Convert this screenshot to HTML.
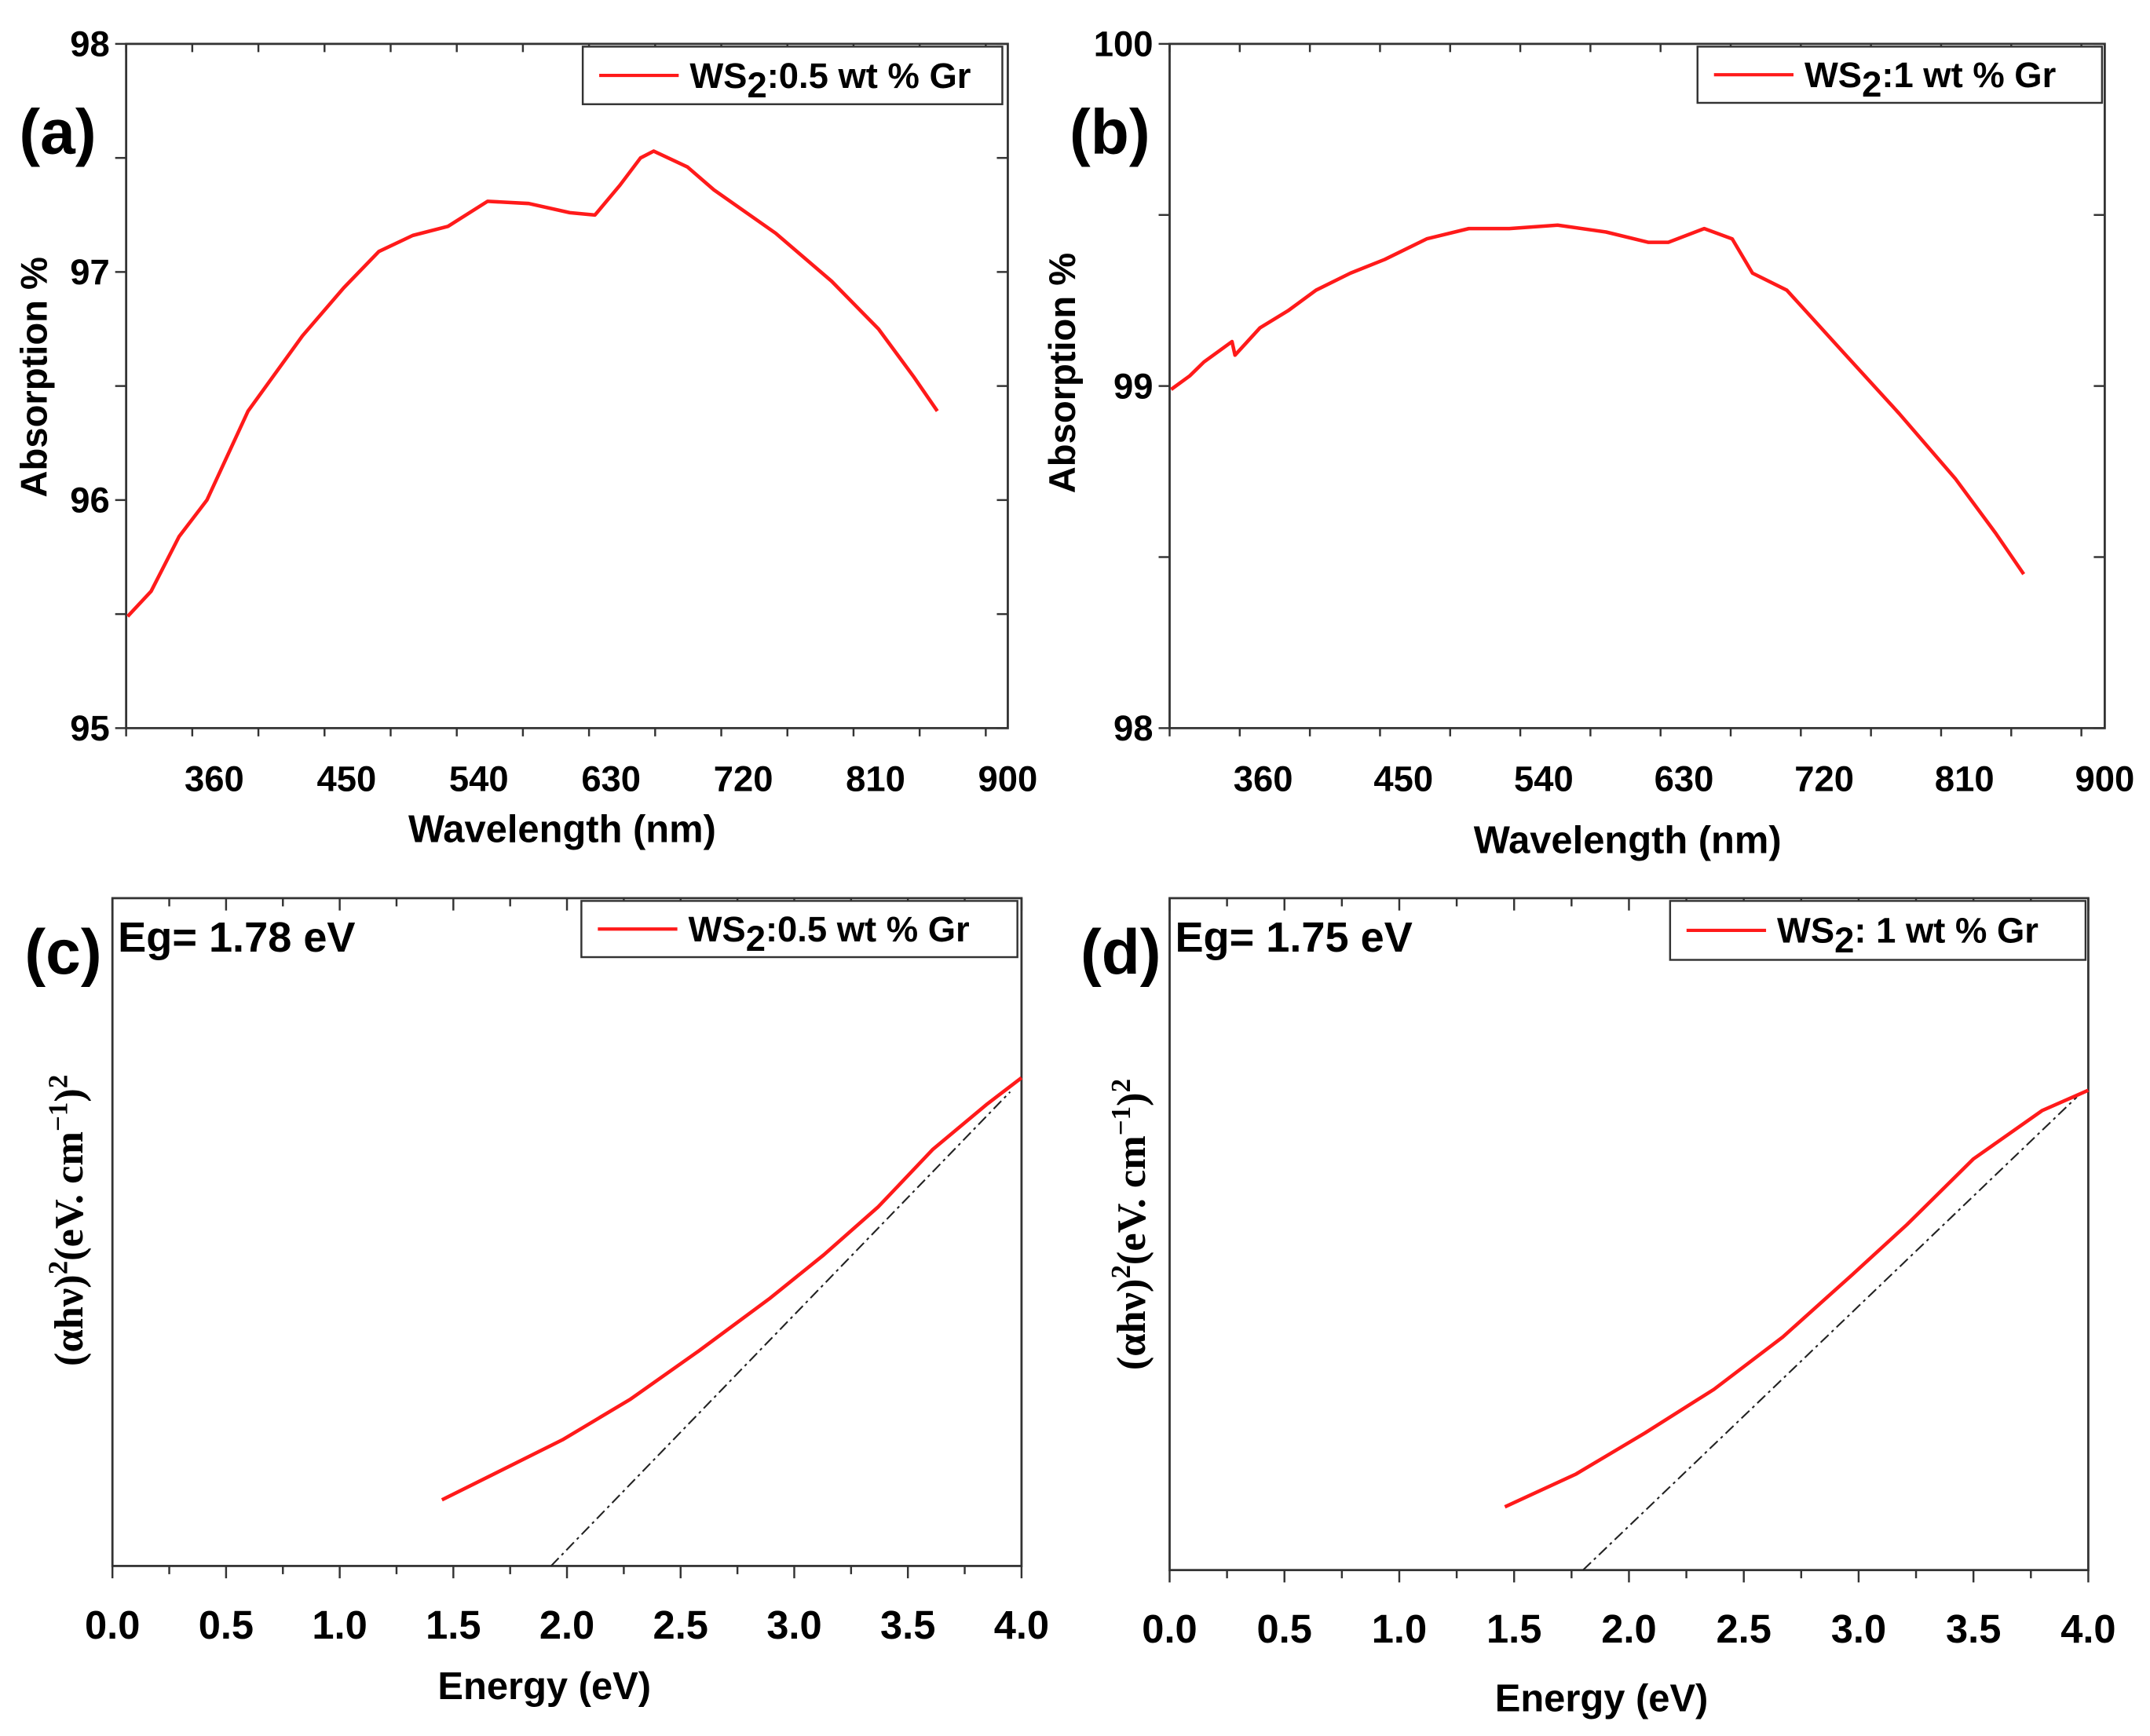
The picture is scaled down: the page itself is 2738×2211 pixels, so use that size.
<!DOCTYPE html>
<html><head><meta charset="utf-8"><style>
html,body{margin:0;padding:0;background:#fff;}
svg{display:block;}
text{font-family:"Liberation Sans",Arial,sans-serif;font-weight:bold;fill:#000;}
</style></head><body>
<svg id="fig" width="2738" height="2211" viewBox="0 0 1568 1266" preserveAspectRatio="none" xmlns="http://www.w3.org/2000/svg"></svg>
<script>
// Panel (a) data
const aWave=[301,317,336,355,383,420,448,472,495,519,546,574,602,619,636,650,659,682,700,742,780,812,836,852];
const aAbs=[95.49,95.6,95.84,96.0,96.39,96.72,96.93,97.09,97.16,97.2,97.31,97.3,97.26,97.25,97.38,97.5,97.53,97.46,97.36,97.17,96.96,96.75,96.54,96.39];
// Panel (b) data
const bWave=[301,313,322,340,342,358,376,394,416,438,465,492,518,549,580,607,620,643,661,674,696,732,768,804,830,848];
const bAbs=[98.99,99.03,99.07,99.13,99.09,99.17,99.22,99.28,99.33,99.37,99.43,99.46,99.46,99.47,99.45,99.42,99.42,99.46,99.43,99.33,99.28,99.1,98.92,98.73,98.57,98.45];
// Panel (c) data
const cE=[1.45,1.68,1.98,2.28,2.58,2.89,3.13,3.37,3.61,3.85,4.0];
const cY=[9.9,13.8,18.9,25,32.2,40,46.6,53.8,62.4,69.2,73.1];
const cFitE=[1.93,3.95];
const cFitY=[0,71];
// Panel (d) data
const dE=[1.46,1.77,2.07,2.37,2.67,2.97,3.21,3.5,3.8,4.0];
const dY=[9.4,14.3,20.4,26.9,34.7,43.9,51.4,61.2,68.4,71.4];
const dFitE=[1.8,3.95];
const dFitY=[0,70.4];
// tick labels
const wlTicks=[360,450,540,630,720,810,900];
const aYTicks=[95,96,97,98];
const bYTicks=[98,99,100];
const eTicks=["0.0","0.5","1.0","1.5","2.0","2.5","3.0","3.5","4.0"];

const svg=document.getElementById('fig');
const NS="http://www.w3.org/2000/svg";
function mk(tag,attrs,parent){const e=document.createElementNS(NS,tag);for(const k in attrs)e.setAttribute(k,attrs[k]);(parent||svg).appendChild(e);return e;}
function txt(s,x,y,size,anchor,parent){const t=mk('text',{x:x,y:y,'font-size':size,'text-anchor':anchor||'middle'},parent);t.textContent=s;return t;}

function panel(o){
  const g=mk('g',{});
  
  
  const sx=v=>o.L+(v-o.x0)/(o.x1-o.x0)*(o.R-o.L);
  const sy=v=>o.B-(v-o.y0)/(o.y1-o.y0)*(o.B-o.T);
  const frame=mk('rect',{x:o.L,y:o.T,width:o.R-o.L,height:o.B-o.T,fill:'none',stroke:'#333','stroke-width':1.6},g);
  
  
  for(let v=o.x0;v<=o.x1+1e-9;v+=o.minor){
    const x=sx(v);const major=Math.abs(((v-o.majorStart)/o.major)-Math.round((v-o.majorStart)/o.major))<1e-6;
    const len=major?9:6;
    mk('line',{x1:x,y1:o.B,x2:x,y2:o.B+len,stroke:'#333','stroke-width':1.4},g);
    mk('line',{x1:x,y1:o.T,x2:x,y2:o.T+len,stroke:'#333','stroke-width':1.4},g);
  }
  o.xLabels.forEach(s=>{const v=parseFloat(s);const t=txt(String(s),sx(v),o.B+o.tickDy,o.tickFs,'middle',g);
    });
  if(o.yLabels){
    for(let v=o.y0;v<=o.y1+1e-9;v+=o.yminor){
      const y=sy(v);
      mk('line',{x1:o.L-8,y1:y,x2:o.L,y2:y,stroke:'#333','stroke-width':1.4},g);
      mk('line',{x1:o.R-8,y1:y,x2:o.R,y2:y,stroke:'#333','stroke-width':1.4},g);
    }
    o.yLabels.forEach(v=>{const t=txt(String(v),o.L-12,sy(v)+9,o.tickFs,'end',g);
      });
  }
  if(o.fitX){
    const p=o.fitX.map((v,i)=>sx(v)+','+sy(o.fitY[i])).join(' ');
    const l=mk('polyline',{points:p,fill:'none',stroke:'#222','stroke-width':1.2,'stroke-dasharray':'8,3,2,3'},g);
    
  }
  const pts=o.xs.map((v,i)=>sx(v).toFixed(1)+','+sy(o.ys[i]).toFixed(1)).join(' ');
  const c=mk('polyline',{points:pts,fill:'none',stroke:'#ff1a1a','stroke-width':2.6,'stroke-linejoin':'round'},g);
  
  const lg=mk('g',{},g);
  
  mk('rect',{x:o.leg[0],y:o.leg[1],width:o.leg[2],height:o.leg[3],fill:'#fff',stroke:'#333','stroke-width':1.4},lg);
  const my=o.leg[1]+o.leg[3]/2;
  mk('line',{x1:o.leg[0]+12,y1:my,x2:o.leg[0]+70,y2:my,stroke:'#ff1a1a','stroke-width':2.4},lg);
  const lt=mk('text',{x:o.leg[0]+78,y:my+9,'font-size':26,'text-anchor':'start'},lg);
  lt.innerHTML='WS<tspan dy="7" font-size="26">2</tspan><tspan dy="-7">'+o.legText+'</tspan>';
  const pl=txt(o.tag,o.tagX,o.tagY,46,'start',g);
  
  const xt=txt(o.xTitle,o.xtX,o.xtY,28,'middle',g);
  
  const yt=mk('text',{x:0,y:0,'font-size':o.ytFs||27,'text-anchor':'middle',transform:'translate('+o.ytX+','+o.ytY+') rotate(-90)'},g);
  if(o.ytHtml){yt.innerHTML=o.ytHtml;yt.setAttribute('style','font-family:"Liberation Serif",serif;font-weight:bold');}else yt.textContent=o.yTitle;
  
  if(o.eg){const e=txt(o.eg,o.L+4,o.T+39,31,'start',g);}
}
const tauc='(αhν)<tspan dy="-11" font-size="20">2</tspan><tspan dy="11">(eV. cm</tspan><tspan dy="-11" font-size="20">−1</tspan><tspan dy="11">)</tspan><tspan dy="-11" font-size="20">2</tspan>';
panel({name:'panel-a',L:92,R:735,T:32,B:531,x0:300,x1:900,y0:95,y1:98,minor:45,major:90,majorStart:360,yminor:0.5,
  xs:aWave,ys:aAbs,xLabels:wlTicks,yLabels:aYTicks,tickFs:26,tickDy:46,leg:[425,34,306,42],legText:':0.5 wt % Gr',
  tag:'(a)',tagX:14,tagY:112,xTitle:'Wavelength (nm)',xtX:410,xtY:614,yTitle:'Absorption %',ytX:34,ytY:275});
panel({name:'panel-b',L:853,R:1535,T:32,B:531,x0:300,x1:900,y0:98,y1:100,minor:45,major:90,majorStart:360,yminor:0.5,
  xs:bWave,ys:bAbs,xLabels:wlTicks,yLabels:bYTicks,tickFs:26,tickDy:46,leg:[1238,34,295,41],legText:':1 wt % Gr',
  tag:'(b)',tagX:780,tagY:112,xTitle:'Wavelength (nm)',xtX:1187,xtY:622,yTitle:'Absorption %',ytX:784,ytY:272});
panel({name:'panel-c',L:82,R:745,T:655,B:1142,x0:0,x1:4,y0:0,y1:100,minor:0.25,major:0.5,majorStart:0,
  xs:cE,ys:cY,fitX:cFitE,fitY:cFitY,xLabels:eTicks,tickFs:29,tickDy:53,leg:[424,657,318,41],legText:':0.5 wt % Gr',
  tag:'(c)',tagX:18,tagY:710,xTitle:'Energy (eV)',xtX:397,xtY:1239,ytX:60,ytY:890,ytHtml:tauc,ytFs:30,eg:'Eg= 1.78 eV'});
panel({name:'panel-d',L:853,R:1523,T:655,B:1145,x0:0,x1:4,y0:0,y1:100,minor:0.25,major:0.5,majorStart:0,
  xs:dE,ys:dY,fitX:dFitE,fitY:dFitY,xLabels:eTicks,tickFs:29,tickDy:53,leg:[1218,657,303,43],legText:': 1 wt % Gr',
  tag:'(d)',tagX:788,tagY:710,xTitle:'Energy (eV)',xtX:1168,xtY:1248,ytX:835,ytY:893,ytHtml:tauc,ytFs:30,eg:'Eg= 1.75 eV'});
</script>
</body></html>
